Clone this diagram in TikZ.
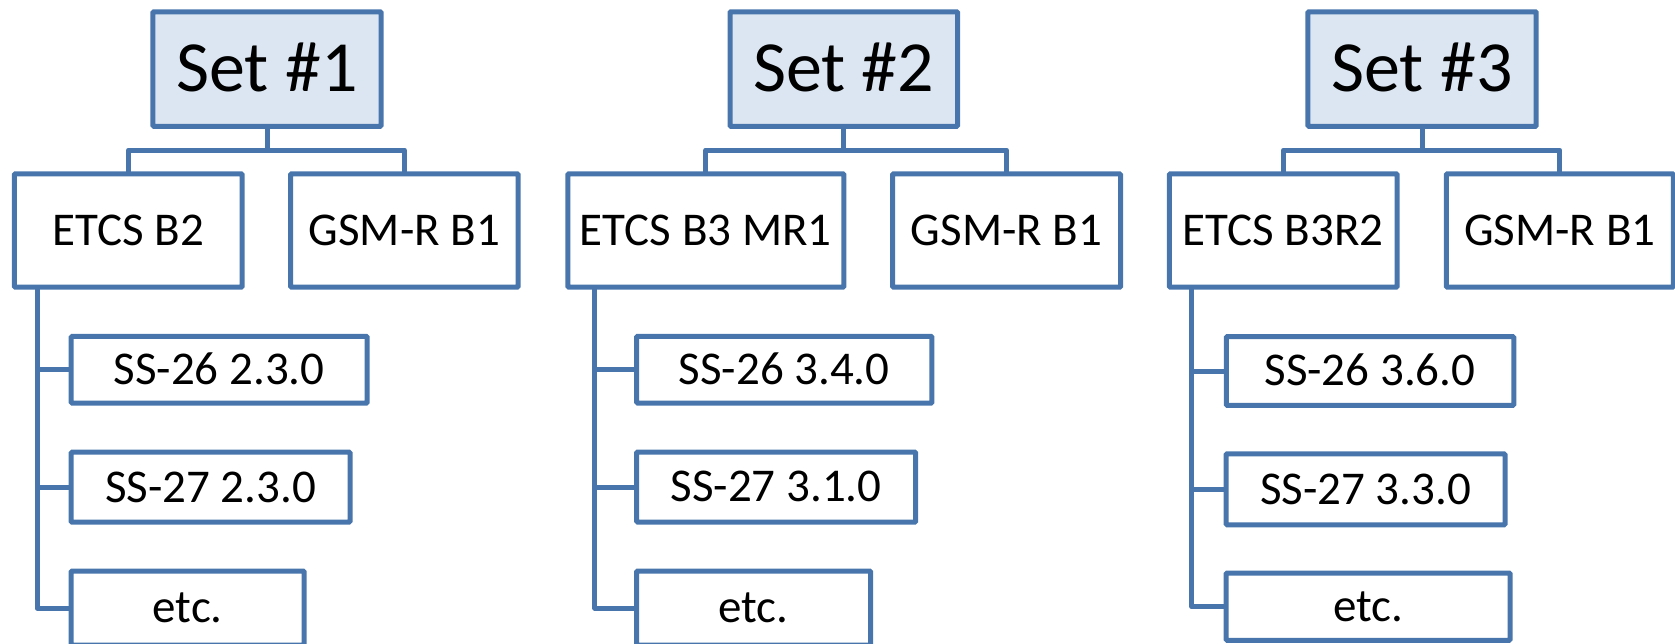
\documentclass[tikz,border=0pt]{standalone}
\usepackage{fontspec}
\setmainfont{Carlito}
\definecolor{edge}{RGB}{72,118,172}
\definecolor{topfill}{RGB}{220,230,242}
\tikzset{
  box/.style={draw=edge, line width=5pt, fill=white, rectangle, inner sep=0pt, outer sep=0pt,
    rounded corners=1pt, text height=29.7pt, text depth=0pt, font=\fontsize{47}{56}\selectfont},
  setbox/.style={box, fill=topfill, text height=45.5pt, font=\fontsize{72}{86}\selectfont},
  link/.style={draw=edge, line width=5pt, line join=round}
}
\begin{document}
\begin{tikzpicture}[x=1pt,y=-1pt]
\useasboundingbox (0,0) rectangle (1675,643);
\clip (0,0) rectangle (1675,643);
% level 1
\node[setbox, minimum width=228.4pt, minimum height=114.5pt] (s1) at (267,69) {Set \#1};
\node[setbox, minimum width=227.5pt, minimum height=114.5pt] (s2) at (843.75,69) {Set \#2};
\node[setbox, minimum width=228.4pt, minimum height=114.5pt] (s3) at (1422,69) {Set \#3};
% level 2
\node[box, minimum width=227.7pt, minimum height=113.4pt] (e1) at (128.3,230.5) {ETCS B2};
\node[box, minimum width=227.5pt, minimum height=113.4pt] (g1) at (404.3,230.5) {GSM-R B1};
\node[box, minimum width=276pt, minimum height=113.4pt] (e2) at (705.8,230.5) {ETCS B3 MR1};
\node[box, minimum width=228pt, minimum height=113.4pt] (g2) at (1006.5,230.5) {GSM-R B1};
\node[box, minimum width=227.7pt, minimum height=113.4pt] (e3) at (1283.3,230.5) {ETCS B3R2};
\node[box, minimum width=227pt, minimum height=113.4pt] (g3) at (1559.8,230.5) {GSM-R B1};
% level 3, set 1
\node[box, minimum width=296pt, minimum height=66.7pt] (a1) at (219.2,369.7) {SS-26 2.3.0};
\node[box, minimum width=278.8pt, minimum height=70pt] (b1) at (210.6,487.2) {SS-27 2.3.0};
\node[box, minimum width=233pt, minimum height=74pt] (c1) at (187.7,608) {etc.};
% level 3, set 2
\node[box, minimum width=295.3pt, minimum height=66.7pt] (a2) at (784.3,369.7) {SS-26 3.4.0};
\node[box, minimum width=279pt, minimum height=70pt] (b2) at (776.2,487) {SS-27 3.1.0};
\node[box, minimum width=233.8pt, minimum height=74pt] (c2) at (753.6,608) {etc.};
% level 3, set 3
\node[box, minimum width=287.5pt, minimum height=68.8pt] (a3) at (1370,371) {SS-26 3.6.0};
\node[box, minimum width=278.8pt, minimum height=71pt] (b3) at (1365.6,489.3) {SS-27 3.3.0};
\node[box, minimum width=283.8pt, minimum height=67.4pt] (c3) at (1368.1,606.7) {etc.};
% spine coordinates
\coordinate (sp1) at (37,287);
\coordinate (sp2) at (594.8,287);
\coordinate (sp3) at (1191.7,287);
\coordinate (bar) at (0,150);
% connectors
\foreach \i in {1,2,3}{
  \draw[link] (s\i.south) -- (s\i.south |- bar);
  \draw[link] (e\i.north) -- (e\i.north |- bar) -- (g\i.north |- bar) -- (g\i.north);
  \draw[link] (e\i.south -| sp\i) -- (sp\i |- c\i.west) -- (c\i.west);
  \draw[link] (sp\i |- a\i.west) -- (a\i.west);
  \draw[link] (sp\i |- b\i.west) -- (b\i.west);
}
\end{tikzpicture}
\end{document}
